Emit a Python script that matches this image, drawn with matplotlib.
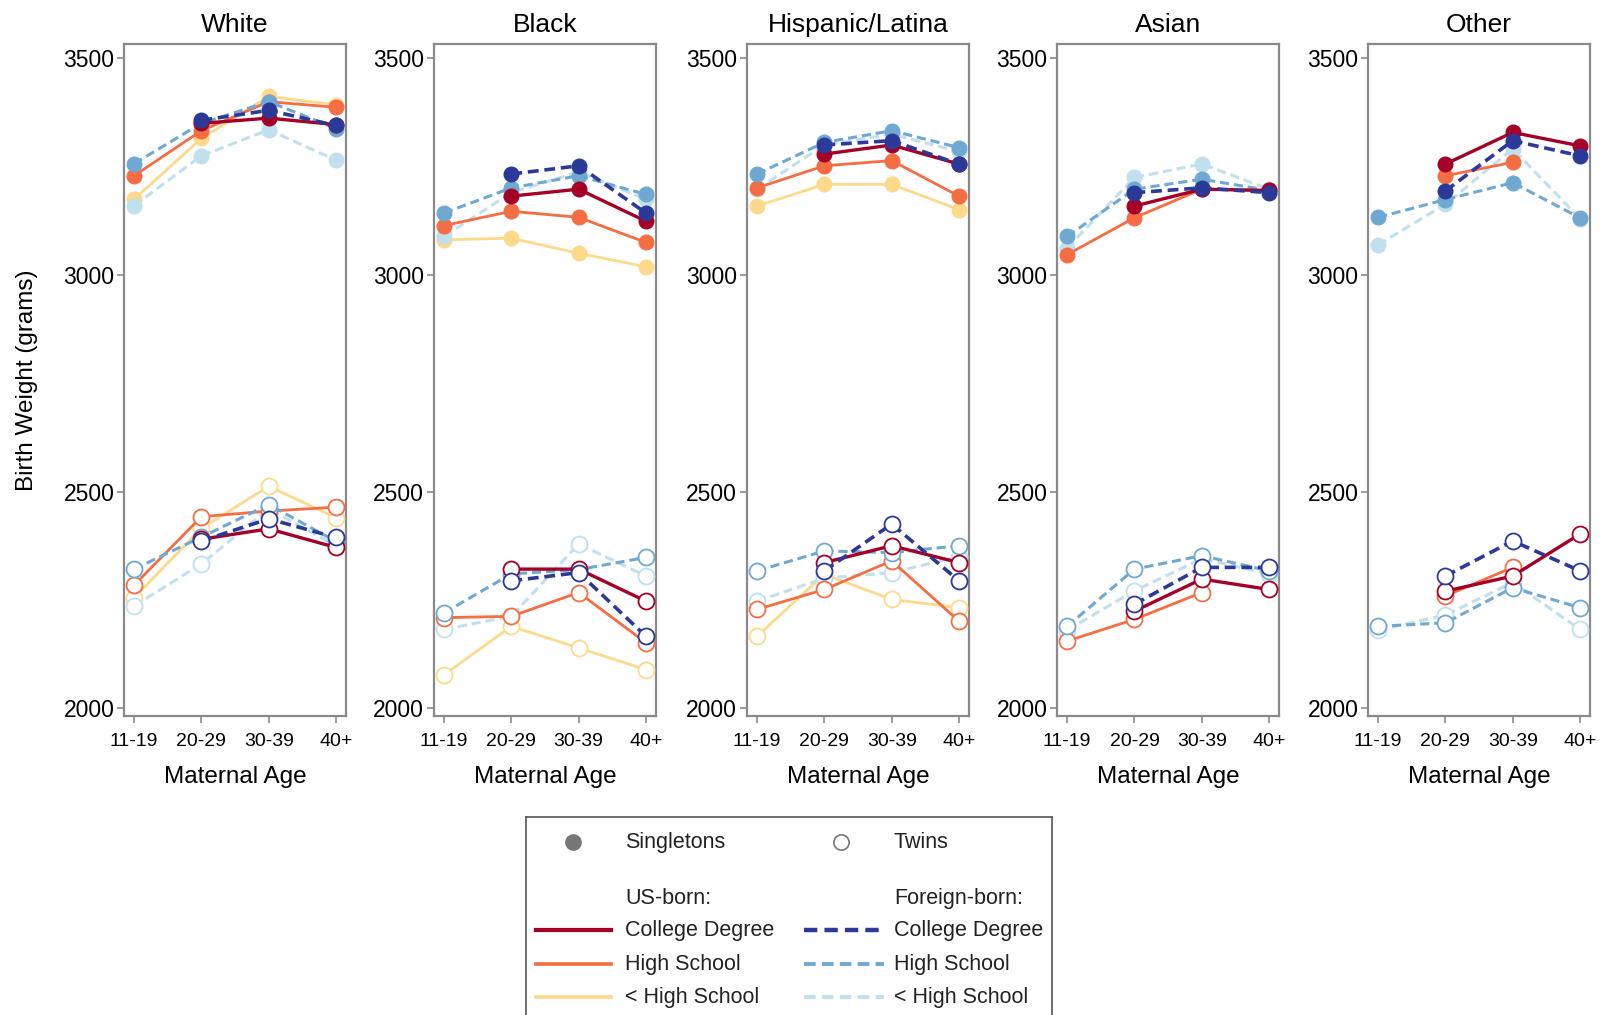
import numpy as np
import matplotlib
matplotlib.use("Agg")
import matplotlib.pyplot as plt

nan = np.nan
plt.rcParams['font.family'] = ['Liberation Sans', 'DejaVu Sans']

ages = ["11-19", "20-29", "30-39", "40+"]
races = ["White", "Black", "Hispanic/Latina", "Asian", "Other"]
series = ["us_lt", "fb_lt", "us_hs", "fb_hs", "us_col", "fb_col"]

# singletons, one row per race (order as in races)
single_us_col = [[nan, 3350, 3362, 3347], [nan, 3182, 3198, 3124], [nan, 3279, 3300, 3256],
                 [nan, 3159, 3198, 3195], [nan, 3256, 3329, 3298]]
single_us_hs = [[3229, 3333, 3400, 3387], [3114, 3147, 3133, 3075], [3201, 3252, 3264, 3182],
                [3047, 3132, 3198, 3195], [nan, 3229, 3260, nan]]
single_us_lt = [[3175, 3315, 3412, 3393], [3081, 3085, 3050, 3019], [3159, 3209, 3209, 3151],
                [nan, nan, nan, nan], [nan, nan, nan, nan]]
single_fb_col = [[nan, 3357, 3380, 3345], [nan, 3233, 3252, 3143], [nan, 3300, 3310, 3256],
                 [nan, 3190, 3201, 3190], [nan, 3194, 3310, 3275]]
single_fb_hs = [[3257, 3350, 3400, 3338], [3143, 3201, 3229, 3186], [3233, 3306, 3333, 3294],
                [3089, 3198, 3221, 3195], [3133, 3174, 3213, 3132]]
single_fb_lt = [[3160, 3275, 3335, 3265], [3089, 3190, 3238, 3175], [3198, 3300, 3325, 3285],
                [3062, 3225, 3256, 3198], [3070, 3163, 3291, 3130]]

# twins
twin_us_col = [[nan, 2390, 2414, 2371], [nan, 2321, 2321, 2247], [nan, 2336, 2375, 2336],
               [nan, 2224, 2298, 2274], [nan, 2270, 2305, 2402]]
twin_us_hs = [[2284, 2442, 2455, 2464], [2209, 2212, 2267, 2151], [2228, 2274, 2340, 2201],
              [2155, 2205, 2267, nan], [nan, 2259, 2325, nan]]
twin_us_lt = [[2255, 2415, 2512, 2440], [2077, 2189, 2139, 2089], [2166, 2309, 2251, 2232],
              [nan, nan, nan, nan], [nan, nan, nan, nan]]
twin_fb_col = [[nan, 2386, 2437, 2394], [nan, 2294, 2313, 2166], [nan, 2317, 2425, 2294],
               [nan, 2240, 2325, 2325], [nan, 2305, 2386, 2317]]
twin_fb_hs = [[2321, 2395, 2470, 2385], [2220, 2310, 2320, 2348], [2317, 2363, 2359, 2375],
              [2189, 2321, 2352, 2317], [2189, 2197, 2278, 2232]]
twin_fb_lt = [[2236, 2333, 2460, 2375], [2182, 2212, 2379, 2305], [2247, 2300, 2313, 2350],
              [2180, 2271, 2345, 2310], [2180, 2215, 2290, 2182]]

singles = {"us_col": single_us_col, "us_hs": single_us_hs, "us_lt": single_us_lt,
           "fb_col": single_fb_col, "fb_hs": single_fb_hs, "fb_lt": single_fb_lt}
twins = {"us_col": twin_us_col, "us_hs": twin_us_hs, "us_lt": twin_us_lt,
         "fb_col": twin_fb_col, "fb_hs": twin_fb_hs, "fb_lt": twin_fb_lt}

colors = {"us_col": "#A50026", "us_hs": "#F46D43", "us_lt": "#FDD98C",
          "fb_col": "#2B3A98", "fb_hs": "#6FA9D2", "fb_lt": "#BFE0EC"}
styles = {"us_col": "-", "us_hs": "-", "us_lt": "-",
          "fb_col": (0, (3, 1.6)), "fb_hs": (0, (3, 1.6)), "fb_lt": (0, (3, 1.6))}
widths = {"us_col": 2.4, "us_hs": 2.0, "us_lt": 2.0,
          "fb_col": 2.6, "fb_hs": 2.2, "fb_lt": 2.2}

spine_col = "#8a8a8a"

fig = plt.figure(figsize=(16.06, 10.15), dpi=100)
lefts = [0.0772, 0.2702, 0.4651, 0.6582, 0.8518]
x = np.arange(len(ages))

for i, race in enumerate(races):
    ax = fig.add_axes([lefts[i], 0.2946, 0.1383, 0.662])
    for s in series:
        ys = np.array(singles[s][i], dtype=float)
        ax.plot(x, ys, linestyle=styles[s], color=colors[s], lw=widths[s],
                marker="o", ms=10.5, mfc=colors[s], mec=colors[s], zorder=3)
        yt = np.array(twins[s][i], dtype=float)
        ax.plot(x, yt, linestyle=styles[s], color=colors[s], lw=widths[s],
                marker="o", ms=11.5, mfc="white", mec=colors[s], mew=1.3, zorder=3)
    ax.set_xlim(-0.15, 3.15)
    ax.set_ylim(1982, 3533)
    ax.set_xticks(x)
    ax.set_xticklabels(ages, fontsize=14)
    ax.set_yticks([2000, 2500, 3000, 3500])
    ax.set_yticklabels(["2000", "2500", "3000", "3500"], fontsize=16.5)
    ax.tick_params(axis="x", direction="out", length=5, width=1.2, color=spine_col, pad=7)
    ax.tick_params(axis="y", direction="out", length=5, width=1.2, color=spine_col, pad=2)
    for sp in ax.spines.values():
        sp.set_color(spine_col)
        sp.set_linewidth(1.6)
    ax.set_title(race, fontsize=19, pad=9)
    ax.set_xlabel("Maternal Age", fontsize=17.5, labelpad=12)
    if i == 0:
        ax.set_ylabel("Birth Weight (grams)", fontsize=17.5, labelpad=18)

# legend box drawn by hand
lax = fig.add_axes([0.3275, -0.02, 0.3275, 0.215])
lax.set_xlim(0, 526)
lax.set_ylim(218, 0)
lax.set_xticks([])
lax.set_yticks([])
for sp in lax.spines.values():
    sp.set_color("#555555")
    sp.set_linewidth(1.2)

fs = 15.5
tc = "#222222"
lax.plot([47], [25], marker="o", ms=11, color="#777777", ls="none")
lax.text(99, 25, "Singletons", fontsize=fs, va="center", color=tc)
lax.plot([315], [25], marker="o", ms=11, mfc="white", mec="#777777", mew=1.2, ls="none")
lax.text(368, 25, "Twins", fontsize=fs, va="center", color=tc)
lax.text(99, 81, "US-born:", fontsize=fs, va="center", color=tc)
lax.text(368, 81, "Foreign-born:", fontsize=fs, va="center", color=tc)
labels = ["College Degree", "High School", "< High School"]
rows = [113, 147, 180]
for lab, yy, us, fb in zip(labels, rows, ["us_col", "us_hs", "us_lt"], ["fb_col", "fb_hs", "fb_lt"]):
    lax.plot([10, 85], [yy, yy], color=colors[us], ls=styles[us], lw=widths[us] + 0.6)
    lax.text(99, yy, lab, fontsize=fs, va="center", color=tc)
    lax.plot([278, 358], [yy, yy], color=colors[fb], ls=styles[fb], lw=widths[fb] + 0.6)
    lax.text(368, yy, lab, fontsize=fs, va="center", color=tc)

fig.savefig("out.png", dpi=100)
